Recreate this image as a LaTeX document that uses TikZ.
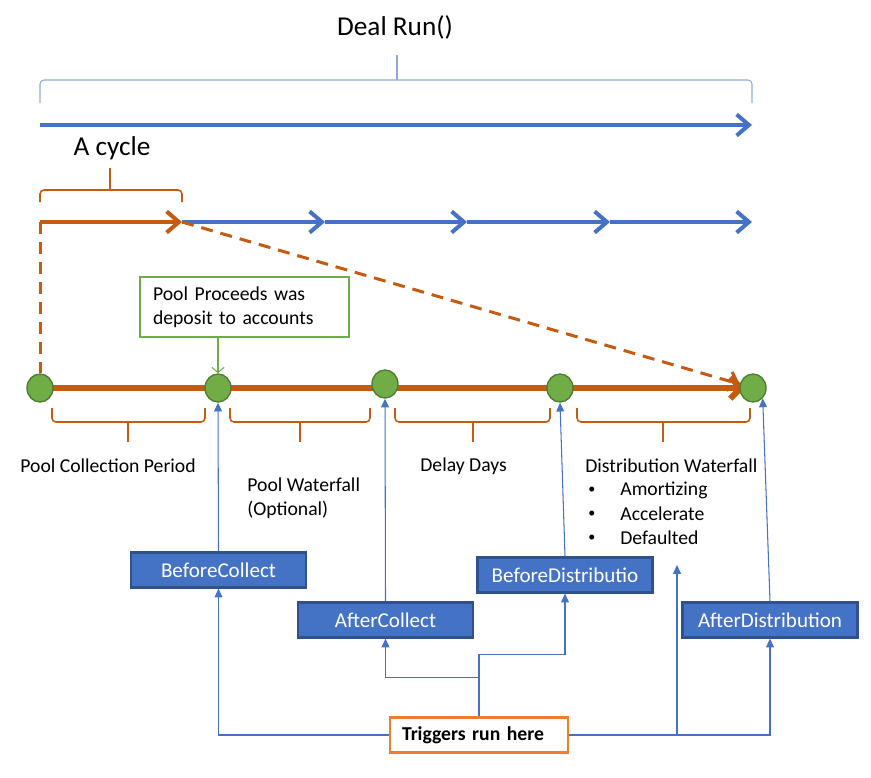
\documentclass[tikz,border=0pt]{standalone}
\usepackage{fontspec}
\setmainfont{Carlito}
\usepackage{xcolor}
\usepackage{tikz}
\usetikzlibrary{arrows.meta,shapes.geometric}
\definecolor{run-color}{RGB}{68,114,196}
\definecolor{hook-border}{RGB}{47,82,143}
\definecolor{brace-color}{RGB}{143,170,220}
\definecolor{cycle-color}{RGB}{197,90,17}
\definecolor{trigger-color}{RGB}{237,125,49}
\definecolor{date-color}{RGB}{112,173,71}
\definecolor{date-border}{RGB}{80,126,50}

\tikzset{
    runline/.style={run-color, line width=0.08cm, -{Straight Barb[length=7pt,width=12pt]}},
    cycleline/.style={cycle-color, line width=0.08cm, -{Straight Barb[length=7pt,width=12pt]}},
    cycledash/.style={cycle-color, line width=0.06cm, dash pattern=on 0.24cm off 0.16cm},
    periodbrace/.style={cycle-color, line width=0.9pt, rounded corners=0.08cm},
    datedot/.style={ellipse, draw=date-border, fill=date-color, line width=0.8pt,
        minimum width=0.52cm, minimum height=0.56cm, inner sep=0pt},
    hookbox/.style={draw=hook-border, fill=run-color, text=white, line width=1.2pt,
        minimum width=3.5cm, minimum height=0.7cm, font=\fontsize{12}{14}\selectfont},
    hookline/.style={run-color, line width=0.6pt, -{Triangle[length=5pt,width=4.5pt]}},
    periodtext/.style={anchor=west, inner sep=0pt, align=left},
}

\begin{document}
\begin{tikzpicture}[x=0.02cm, y=-0.02cm, font=\fontsize{11.2}{13.4}\selectfont]
    \useasboundingbox (0,0) rectangle (871,777);

    % the whole deal
    \node[font=\fontsize{15.5}{18}\selectfont] (dealrun) at (395,27) {Deal Run()};
    \draw[brace-color, line width=0.6pt, rounded corners=0.08cm] (40,103) -- (40,80) -- (752,80) -- (752,103);
    \draw[brace-color, line width=0.6pt] (397,80) -- (397,55);
    \coordinate (runstart) at (40,125);
    \coordinate (runend) at (752,125);
    \draw[runline] (runstart) -- (runend);

    % one cycle of the run
    \node[font=\fontsize{15.5}{18}\selectfont] (acycle) at (112,148) {A cycle};
    \draw[periodbrace] (40,202) -- (40,190) -- (182,190) -- (182,202);
    \draw[periodbrace] (110,190) -- (110,168);
    \foreach \i/\x in {0/40,1/182,2/325,3/467,4/610,5/752}
        \coordinate (p\i) at (\x,222);
    \foreach \a/\b in {1/2,2/3,3/4,4/5}
        \draw[runline] (p\a) -- (p\b);
    \draw[cycleline] (p0) -- (p1);

    % dates inside a cycle
    \foreach \i/\x/\y in {1/40/388,2/218/388,3/385/384,4/560/388,5/753/388}
        \coordinate (d\i) at (\x,\y);
    \draw[cycle-color, line width=0.12cm, -{Straight Barb[length=6pt,width=12pt]}] (d1) -- ([xshift=-0.16cm]d5);
    \foreach \i in {1,...,5}
        \node[datedot] (c\i) at (d\i) {};
    \draw[cycledash] (p0) -- (c1);
    \draw[cycledash, -{Straight Barb[length=5pt,width=11pt]}] (p1) -- (c5);

    % note on the collection date
    \node[draw=date-color, fill=white, line width=0.8pt, minimum width=4.18cm, minimum height=1.2cm,
        inner xsep=0.26cm, text width=3.66cm, align=left] (note) at (244.5,307)
        {Pool Proceeds was\\deposit to accounts};
    \draw[date-color, line width=0.6pt, -{Straight Barb[length=3pt,width=7pt]}] (note.south -| c2.north) -- (c2.north);

    % periods
    \foreach \l/\r/\m in {52/205/128,230/370/300,395/550/473,577/750/663} {
        \draw[periodbrace] (\l,408) -- (\l,422) -- (\r,422) -- (\r,408);
        \draw[periodbrace] (\m,422) -- (\m,442);
    }
    \node[periodtext] (lcollect) at (20,466) {Pool Collection Period};
    \node[periodtext] (lpoolwf) at (247,498) {Pool Waterfall\\(Optional)};
    \node[periodtext] (ldelay) at (420,466) {Delay Days};
    \node[periodtext] (ldistwf) at (585,466) {Distribution Waterfall};
    \foreach \y/\t in {490/Amortizing,514/Accelerate,538/Defaulted} {
        \node[periodtext, font=\fontsize{8}{10}\selectfont] (bullet\y) at (588,\y) {\textbullet};
        \node[periodtext] (case\y) at (620,\y) {\t};
    }

    % hooks
    \node[hookbox] (bcollect) at (218.5,570) {BeforeCollect};
    \node[hookbox] (acollect) at (385.5,620) {AfterCollect};
    \node[hookbox] (bdist) at (565,575) {BeforeDistributio};
    \node[hookbox] (adist) at (770,620) {AfterDistribution};
    \node[draw=trigger-color, fill=white, line width=1.2pt, minimum width=3.56cm, minimum height=0.7cm,
        inner xsep=0.24cm, text width=3.08cm, align=left, font=\fontsize{11.2}{13.4}\selectfont\bfseries]
        (trig) at (479,735) {Triggers run here};
    \coordinate (waterfallcases) at (677,565);

    \draw[hookline] (bcollect.north) -- (c2.south);
    \draw[hookline] (acollect.north) -- (c3.south);
    \draw[hookline] (bdist.north) -- (c4.south);
    \draw[hookline] (adist.north) -- (c5.south east);
    \draw[hookline] (trig.west) -| (bcollect.south);
    \draw[hookline] (trig.north) -- ++(0,-62) -| (bdist.south);
    \draw[hookline] (trig.north) -- ++(0,-39) -| (acollect.south);
    \draw[hookline] (trig.east) -| (waterfallcases);
    \draw[hookline] (trig.east) -| (adist.south);
\end{tikzpicture}
\end{document}
